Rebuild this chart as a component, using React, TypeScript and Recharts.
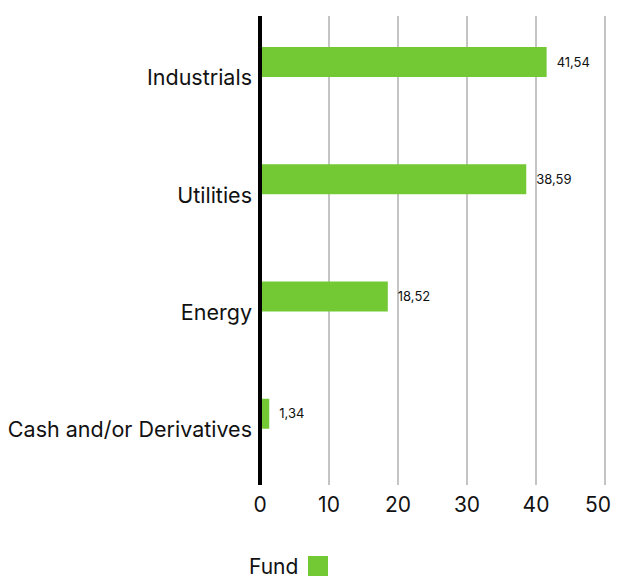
import React from "react";
import {
  BarChart,
  Bar,
  XAxis,
  YAxis,
  CartesianGrid,
  Legend,
  LabelList,
} from "recharts";

const categories = ["Industrials", "Utilities", "Energy", "Cash and/or Derivatives"];
const fundValues = [41.54, 38.59, 18.52, 1.34];
const xTicks = [0, 10, 20, 30, 40, 50];

const data = categories.map((name, i) => ({
  name,
  fund: fundValues[i],
  spacer: null,
}));

const FONT = "Inter, sans-serif";
const GREEN = "#72c934";

// legend sits in a 50px strip at the bottom of the chart
const FundLegend = () => (
  <div style={{ position: "relative", height: 50, fontFamily: FONT, color: "#111" }}>
    <span
      style={{
        position: "absolute",
        left: 241,
        top: 29,
        fontSize: 21,
        lineHeight: "20px",
      }}
    >
      Fund
    </span>
    <span
      style={{
        position: "absolute",
        left: 300,
        top: 28,
        width: 20,
        height: 20,
        background: GREEN,
      }}
    />
  </div>
);

const App = () => {
  return (
    <BarChart
      width={603}
      height={570}
      data={data}
      layout="vertical"
      margin={{ top: 8, right: 6, left: 0, bottom: 0 }}
      barSize={30}
      barGap={-4}
    >
      <CartesianGrid horizontal={false} stroke="#c4c4c4" strokeWidth={2} />
      <XAxis
        type="number"
        domain={[0, 50]}
        ticks={xTicks}
        axisLine={false}
        tickLine={false}
        tickMargin={6}
        height={43}
        tick={{ fill: "#111", fontSize: 21, fontFamily: FONT }}
      />
      <YAxis
        type="category"
        dataKey="name"
        width={252}
        axisLine={{ stroke: "#000", strokeWidth: 4 }}
        tickLine={false}
        tick={{ fill: "#111", fontSize: 21.5, fontFamily: FONT, dy: 3 }}
      />
      <Legend verticalAlign="bottom" height={50} content={<FundLegend />} />
      <Bar dataKey="fund" name="Fund" fill={GREEN} isAnimationActive={false}>
        <LabelList
          dataKey="fund"
          position="right"
          offset={10}
          formatter={(v: number) => String(v).replace(".", ",")}
          style={{ fill: "#111", fontSize: 13, fontFamily: FONT }}
        />
      </Bar>
      <Bar dataKey="spacer" legendType="none" fill="none" isAnimationActive={false} />
    </BarChart>
  );
};

export default App;
